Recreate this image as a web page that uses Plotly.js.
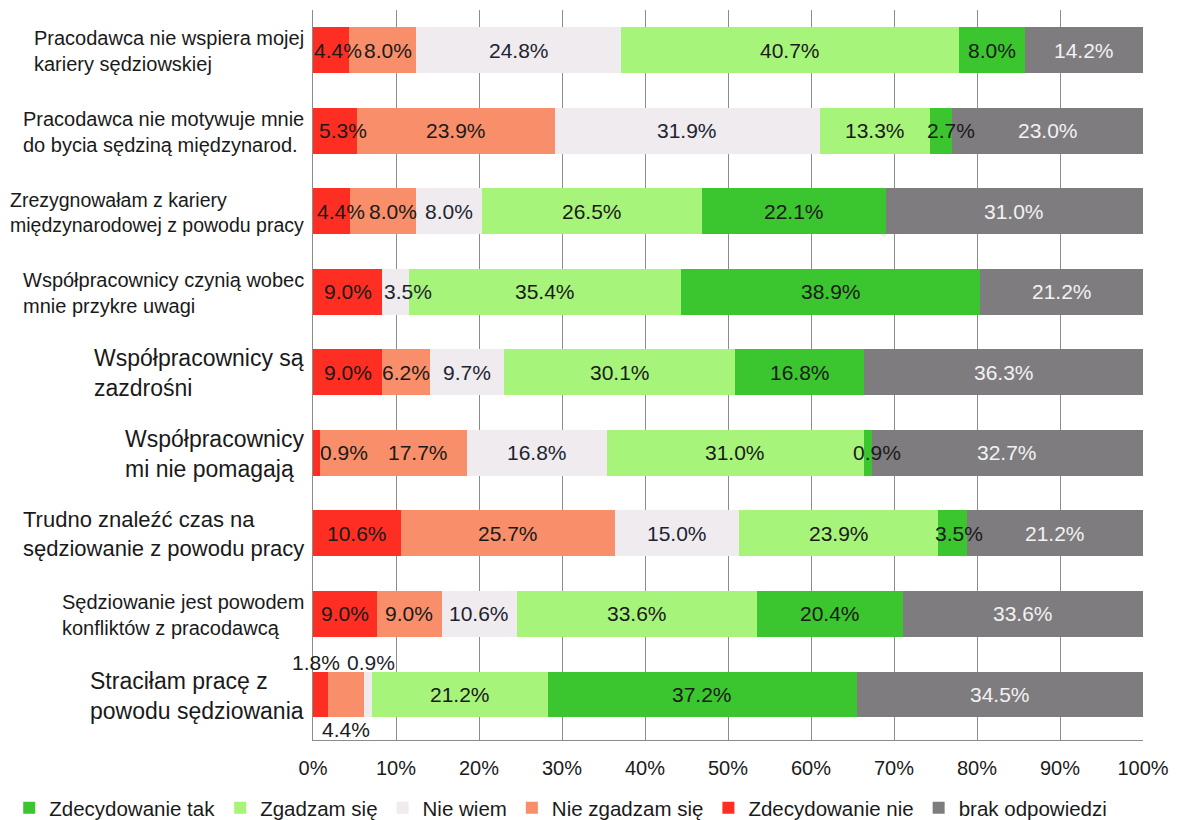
<!DOCTYPE html>
<html><head><meta charset="utf-8">
<script src="https://cdn.plot.ly/plotly-3.0.1.min.js"></script>
<style>html,body{margin:0;padding:0;background:#fff;} #chart{width:1190px;height:820px;}</style>
</head><body><div id="chart"></div>
<script>
// ---- data ----
const categories = [
  "Pracodawca nie wspiera mojej<br>kariery sędziowskiej",
  "Pracodawca nie motywuje mnie<br>do bycia sędziną międzynarod.",
  "Zrezygnowałam z kariery<br>międzynarodowej z powodu pracy",
  "Współpracownicy czynią wobec<br>mnie przykre uwagi",
  "Współpracownicy są<br>zazdrośni",
  "Współpracownicy<br>mi nie pomagają",
  "Trudno znaleźć czas na<br>sędziowanie z powodu pracy",
  "Sędziowanie jest powodem<br>konfliktów z pracodawcą",
  "Straciłam pracę z<br>powodu sędziowania"
];
const seriesNames = ["Zdecydowanie nie","Nie zgadzam się","Nie wiem","Zgadzam się","Zdecydowanie tak","brak odpowiedzi"];
const zdecydowanieNie = [4.4, 5.3, 4.4, 9.0, 9.0, 0.9, 10.6, 9.0, 1.8];
const nieZgadzamSie   = [8.0, 23.9, 8.0, 0, 6.2, 17.7, 25.7, 9.0, 4.4];
const nieWiem         = [24.8, 31.9, 8.0, 3.5, 9.7, 16.8, 15.0, 10.6, 0.9];
const zgadzamSie      = [40.7, 13.3, 26.5, 35.4, 30.1, 31.0, 23.9, 33.6, 21.2];
const zdecydowanieTak = [8.0, 2.7, 22.1, 38.9, 16.8, 0.9, 3.5, 20.4, 37.2];
const brakOdpowiedzi  = [14.2, 23.0, 31.0, 21.2, 36.3, 32.7, 21.2, 33.6, 34.5];
const xTicks = [0,10,20,30,40,50,60,70,80,90,100];

// ---- style ----
const FONT = "Liberation Sans, Arial, sans-serif";
const colors = ["#FF2E23","#F98E6B","#EFEBEF","#A7F47B","#3BC52F","#7F7C80"];
const textColors = ["#1a1a1a","#1a1a1a","#1c2430","#1a1a1a","#1a1a1a","#f2f2f2"];
const legendRanks = [5,4,3,2,1,6];
const labelSizes = [20,20,19.5,20,23,23,22,20,23];
// label offsets in pixels (row index, series index, dx, dy) — mimic the original's label placement
const labelShifts = [
  {r:0, s:0, dx:7, dy:0}, {r:0, s:1, dx:5, dy:0},
  {r:1, s:0, dx:8, dy:0}, {r:1, s:4, dx:10, dy:0},
  {r:2, s:0, dx:10, dy:0}, {r:2, s:1, dx:10, dy:0},
  {r:3, s:2, dx:12, dy:0},
  {r:5, s:0, dx:27, dy:0}, {r:5, s:1, dx:24, dy:0}, {r:5, s:4, dx:9, dy:0},
  {r:6, s:4, dx:7, dy:0},
  {r:8, s:0, dx:-4, dy:-32}, {r:8, s:1, dx:0, dy:35}, {r:8, s:2, dx:3, dy:-32}
];

const allSeries = [zdecydowanieNie, nieZgadzamSie, nieWiem, zgadzamSie, zdecydowanieTak, brakOdpowiedzi];
const fmt = v => v > 0 ? v.toFixed(1) + "%" : "";
const shiftOf = (r, s) => labelShifts.find(m => m.r === r && m.s === s) || {dx:0, dy:0};

const traces = allSeries.map((vals, s) => ({
  type: "bar",
  orientation: "h",
  name: seriesNames[s],
  y: categories,
  x: vals,
  marker: {color: colors[s], line: {width: 0}},
  legendrank: legendRanks[s],
  hoverinfo: "name+x"
}));

const annotations = [];
// category labels, left-aligned block ending near the axis
categories.forEach((c, r) => {
  annotations.push({
    xref: "paper", yref: "y", x: 0, y: c, xanchor: "right", yanchor: "middle",
    xshift: -7, yshift: -1, align: "left", showarrow: false, text: c,
    font: {family: FONT, size: labelSizes[r], color: "#1a1a1a"}
  });
});
// value labels on top of all bars, positioned from the normalized stacked data
categories.forEach((c, r) => {
  const total = allSeries.reduce((a, ser) => a + ser[r], 0);
  let cum = 0;
  allSeries.forEach((ser, s) => {
    const v = ser[r];
    const sh = shiftOf(r, s);
    if (v > 0) {
      annotations.push({
        xref: "x", yref: "y", x: (cum + v / 2) / total * 100, y: c,
        xanchor: "center", yanchor: "middle", xshift: sh.dx, yshift: -sh.dy,
        showarrow: false, text: fmt(v),
        font: {family: FONT, size: 21, color: textColors[s]}
      });
    }
    cum += v;
  });
});

const layout = {
  width: 1190, height: 820,
  margin: {l: 313, r: 47, t: 10, b: 80, autoexpand: false},
  paper_bgcolor: "#fff", plot_bgcolor: "#fff",
  barmode: "stack", barnorm: "percent", bargap: 0.43,
  font: {family: FONT, color: "#1a1a1a"},
  xaxis: {
    range: [0, 100], tickvals: xTicks, ticktext: xTicks.map(t => t + "%"),
    tickfont: {family: FONT, size: 20, color: "#1a1a1a"},
    showgrid: true, gridcolor: "#8c8c8c", gridwidth: 1,
    showline: true, linecolor: "#8c8c8c", linewidth: 1,
    zeroline: false, ticks: "", ticklabelstandoff: 10, fixedrange: true
  },
  yaxis: {
    type: "category", autorange: "reversed", showticklabels: false,
    showgrid: false, showline: true, linecolor: "#8c8c8c", linewidth: 1,
    zeroline: false, ticks: "", fixedrange: true
  },
  showlegend: true,
  legend: {
    orientation: "h", traceorder: "normal",
    xref: "paper", yref: "paper", x: -0.366, y: -0.093,
    xanchor: "left", yanchor: "middle",
    font: {family: FONT, size: 20.5, color: "#1a1a1a"},
    itemwidth: 30, bgcolor: "rgba(0,0,0,0)"
  },
  annotations: annotations
};

Plotly.newPlot("chart", traces, layout, {displayModeBar: false, staticPlot: true});
</script>
</body></html>
